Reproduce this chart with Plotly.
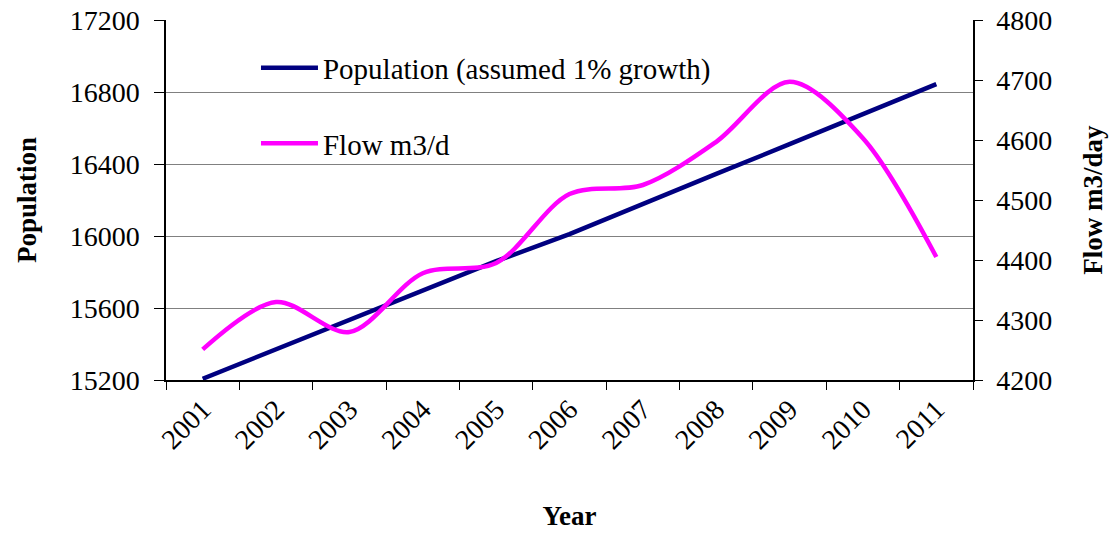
import plotly.graph_objects as go

years = ["2001", "2002", "2003", "2004", "2005", "2006", "2007", "2008", "2009", "2010", "2011"]
population = [15207, 15370, 15535, 15700, 15860, 16010, 16180, 16345, 16510, 16675, 16844]
flow = [4251, 4330, 4280, 4378, 4395, 4510, 4525, 4597, 4697, 4603, 4405]

FONT = "Liberation Serif, Times New Roman, serif"

fig = go.Figure()
fig.add_trace(go.Scatter(
    x=years, y=population, name="Population (assumed 1% growth)",
    mode="lines", line=dict(color="#000080", width=4.5),
    legendgroup="a",
))
fig.add_trace(go.Scatter(
    x=years, y=flow, name="Flow m3/d", yaxis="y2",
    mode="lines", line=dict(color="#FF00FF", width=4.5, shape="spline", smoothing=0.9),
    legendgroup="b",
))

fig.update_layout(
    width=1116, height=536,
    margin=dict(l=166, r=143, t=20, b=156),
    paper_bgcolor="white", plot_bgcolor="white",
    font=dict(family=FONT, size=28, color="black"),
    showlegend=True,
    legend=dict(
        x=0.1115, y=0.938, xanchor="left", yanchor="top",
        bgcolor="rgba(0,0,0,0)", font=dict(size=29, family=FONT),
        tracegroupgap=35, itemwidth=57,
    ),
    xaxis=dict(
        type="category", range=[-0.5, 10.5], automargin=False,
        showline=True, linecolor="black", linewidth=1.5,
        ticks="outside", ticklen=8, tickcolor="black", tickson="boundaries",
        tickangle=-45, tickfont=dict(size=28),
        showgrid=False,
        title=dict(text="<b>Year</b>", font=dict(size=27), standoff=52),
    ),
    yaxis=dict(
        range=[15200, 17200], dtick=400, tick0=15200, tickformat="d", automargin=False,
        showline=True, linecolor="black", linewidth=1.5,
        ticks="outside", ticklen=10, tickcolor="black",
        showgrid=True, gridcolor="#808080", gridwidth=1,
        tickfont=dict(size=28), ticklabelstandoff=9,
        title=dict(text="<b>Population</b>", font=dict(size=27), standoff=25),
        zeroline=False,
    ),
    yaxis2=dict(
        range=[4200, 4800], dtick=100, tick0=4200, tickformat="d", automargin=False,
        overlaying="y", side="right",
        showline=True, linecolor="black", linewidth=1.5,
        ticks="outside", ticklen=8, tickcolor="black",
        showgrid=False, tickfont=dict(size=28), ticklabelstandoff=8,
        title=dict(text="<b>Flow m3/day</b>", font=dict(size=27), standoff=32),
        zeroline=False,
    ),
)

# remove the browser's default 8px body margin so the figure sits at the page's top-left
fig.write_html(
    "out.html",
    config={"displayModeBar": False},
    post_script="document.body.style.margin='0';",
)
